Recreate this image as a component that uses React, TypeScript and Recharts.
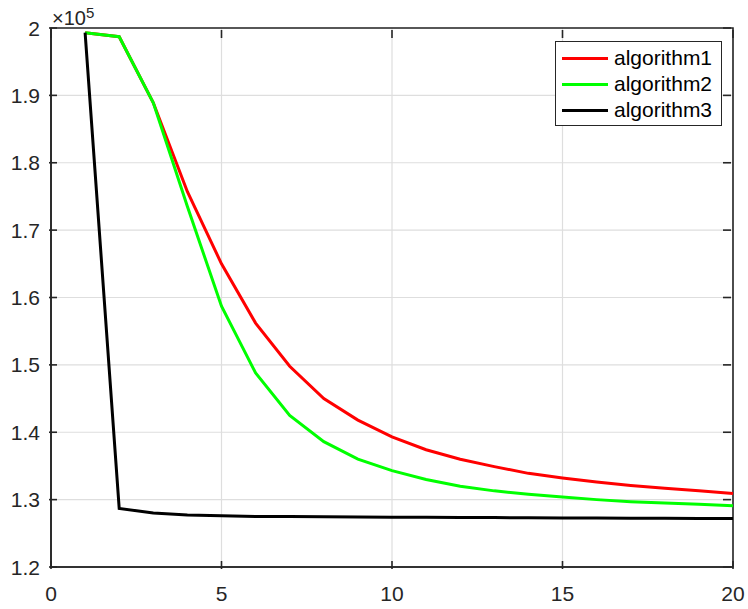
import { CartesianGrid, Legend, Line, LineChart, ReferenceArea, XAxis, YAxis } from "recharts";

const iterations = [1, 2, 3, 4, 5, 6, 7, 8, 9, 10, 11, 12, 13, 14, 15, 16, 17, 18, 19, 20];
const algorithm1 = [
  199300, 198700, 188900, 175700, 165000, 156200, 149800, 145000, 141800, 139300,
  137400, 136000, 134900, 133900, 133200, 132600, 132100, 131700, 131300, 130900,
];
const algorithm2 = [
  199300, 198700, 188900, 173500, 158700, 148800, 142500, 138600, 136000, 134300,
  133000, 132000, 131300, 130800, 130400, 130000, 129700, 129500, 129300, 129100,
];
const algorithm3 = [
  199300, 128700, 128000, 127700, 127600, 127500, 127480, 127450, 127430, 127400,
  127380, 127350, 127330, 127300, 127280, 127260, 127240, 127220, 127200, 127200,
];
const xTicks = [0, 5, 10, 15, 20];
const yTicks = [120000, 130000, 140000, 150000, 160000, 170000, 180000, 190000, 200000];

const series = [
  { key: "a1", name: "algorithm1", color: "#ff0000", values: algorithm1 },
  { key: "a2", name: "algorithm2", color: "#00ff00", values: algorithm2 },
  { key: "a3", name: "algorithm3", color: "#000000", values: algorithm3 },
];

const data = iterations.map((x, i) => {
  const row: Record<string, number> = { x };
  series.forEach((s) => (row[s.key] = s.values[i]));
  return row;
});

const FONT = '"Liberation Sans", Arial, Helvetica, sans-serif';
const AXIS = "#262626";
const TICK_LEN = 8;
// plot box size (chart 748x609 minus margins/axes)
const PLOT_W = 682;
const PLOT_H = 539;

const fmtY = (v: number) => String(Number((v / 1e5).toFixed(1)));

// MATLAB-style ticks point inward, and repeat on the opposite side of the box
function BottomTick({ x, y, payload }: any) {
  return (
    <g>
      <line x1={x} y1={y} x2={x} y2={y - TICK_LEN} stroke={AXIS} strokeWidth={1.6} />
      <line x1={x} y1={y - PLOT_H} x2={x} y2={y - PLOT_H + TICK_LEN} stroke={AXIS} strokeWidth={1.6} />
      <text x={x} y={y + 32} textAnchor="middle" fill={AXIS} fontSize={21} fontFamily={FONT}>
        {payload.value}
      </text>
    </g>
  );
}

function LeftTick({ x, y, payload }: any) {
  return (
    <g>
      <line x1={x} y1={y} x2={x + TICK_LEN} y2={y} stroke={AXIS} strokeWidth={1.6} />
      <line x1={x + PLOT_W} y1={y} x2={x + PLOT_W - TICK_LEN} y2={y} stroke={AXIS} strokeWidth={1.6} />
      <text x={x - 9} y={y + 7.5} textAnchor="end" fill={AXIS} fontSize={21} fontFamily={FONT}>
        {fmtY(payload.value)}
      </text>
    </g>
  );
}

function LegendBox() {
  return (
    <div
      style={{
        border: `1.5px solid ${AXIS}`,
        background: "#fff",
        padding: "3px 0 3px 6px",
        fontFamily: FONT,
        fontSize: 21,
        color: "#000",
        boxSizing: "border-box",
        width: 167,
        height: 85,
      }}
    >
      {series.map((s) => (
        <div key={s.key} style={{ display: "flex", alignItems: "center", height: 26 }}>
          <span style={{ display: "inline-block", width: 46, height: 3, background: s.color, marginRight: 6 }} />
          {s.name}
        </div>
      ))}
    </div>
  );
}

export default function App() {
  return (
    <div style={{ position: "absolute", left: 0, top: 0, width: 748, height: 609, background: "#fff" }}>
      <LineChart width={748} height={609} data={data} margin={{ top: 28, right: 15, bottom: 0, left: 0 }}>
        <CartesianGrid stroke="#dedede" strokeWidth={1.2} />
        <ReferenceArea x1={0} x2={20} y1={120000} y2={200000} fill="none" stroke={AXIS} strokeWidth={1.6} />
        <XAxis
          dataKey="x"
          type="number"
          domain={[0, 20]}
          ticks={xTicks}
          height={42}
          tickSize={0}
          tick={<BottomTick />}
          axisLine={{ stroke: AXIS, strokeWidth: 1.6 }}
          interval={0}
        />
        <YAxis
          type="number"
          domain={[120000, 200000]}
          ticks={yTicks}
          width={51}
          tickSize={0}
          tick={<LeftTick />}
          axisLine={{ stroke: AXIS, strokeWidth: 1.6 }}
          interval={0}
        />
        <Legend
          layout="vertical"
          align="center"
          verticalAlign="middle"
          content={<LegendBox />}
          wrapperStyle={{ left: 555, top: 41, width: 167, height: 85 }}
        />
        {series.map((s) => (
          <Line
            key={s.key}
            dataKey={s.key}
            name={s.name}
            stroke={s.color}
            strokeWidth={3}
            dot={false}
            type="linear"
            isAnimationActive={false}
          />
        ))}
      </LineChart>
      <div
        style={{
          position: "absolute",
          left: 52,
          top: 3,
          fontFamily: FONT,
          fontSize: 20,
          lineHeight: "20px",
          color: AXIS,
        }}
      >
        ×10<sup style={{ fontSize: 15, verticalAlign: "7px" }}>5</sup>
      </div>
    </div>
  );
}
